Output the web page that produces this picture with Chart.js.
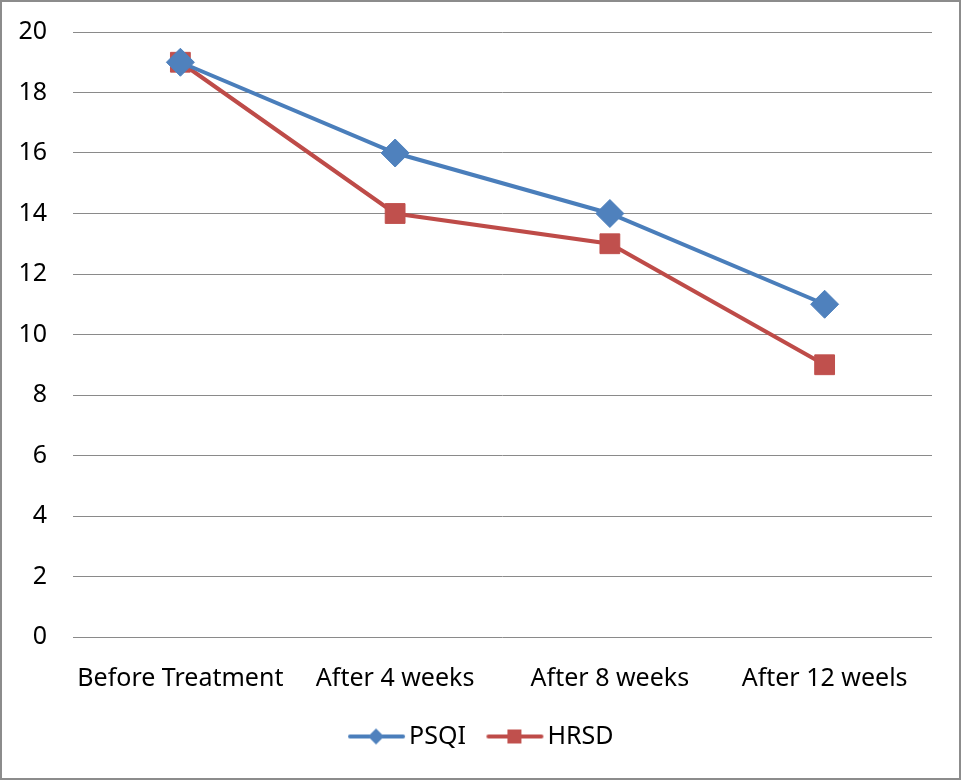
<!DOCTYPE html>
<html>
<head>
<meta charset="utf-8">
<script src="https://cdn.jsdelivr.net/npm/chart.js@4/dist/chart.umd.min.js"></script>
<style>
  html, body { margin: 0; padding: 0; background: #ffffff; }
  #wrap { width: 961px; height: 780px; position: relative; }
</style>
</head>
<body>
<div id="wrap"><canvas id="chart" width="961" height="780"></canvas></div>
<script>
// Time points and scores
const categories = ['Before Treatment', 'After 4 weeks', 'After 8 weeks', 'After 12 weels'];
const psqiValues = [19, 16, 14, 11];
const hrsdValues = [19, 14, 13, 9];
const yTicks = [0, 2, 4, 6, 8, 10, 12, 14, 16, 18, 20];

const FONT = '"Noto Sans", "Open Sans", sans-serif';
const FONT_SIZE = 25;
const BLUE = '#4A7EBB';
const BLUE_MARK = '#4F81BD';
const RED = '#BE4B48';
const RED_MARK = '#C0504D';

// Legend swatch: a short line with the series marker in the middle.
// The canvas is wider than the legend box so the line sits close to the label.
function legendSwatch(color, markColor, shape) {
  const c = document.createElement('canvas');
  c.width = 80; c.height = 24;
  const g = c.getContext('2d');
  g.strokeStyle = color;
  g.lineWidth = 4;
  g.lineCap = 'round';
  g.beginPath();
  g.moveTo(18, 12); g.lineTo(71, 12);
  g.stroke();
  g.fillStyle = markColor;
  const cx = 44;
  if (shape === 'diamond') {
    g.beginPath();
    g.moveTo(cx, 4); g.lineTo(cx + 8, 12); g.lineTo(cx, 20); g.lineTo(cx - 8, 12);
    g.closePath();
    g.fill();
  } else {
    g.fillRect(cx - 7, 5, 14, 14);
  }
  return c;
}

// Outer frame around the whole figure
const framePlugin = {
  id: 'frame',
  afterDraw(chart) {
    const ctx = chart.ctx;
    ctx.save();
    ctx.strokeStyle = '#8c8c8c';
    ctx.lineWidth = 2;
    ctx.strokeRect(1, 1, chart.width - 2, chart.height - 2);
    ctx.restore();
  }
};

new Chart(document.getElementById('chart'), {
  type: 'line',
  data: {
    labels: categories,
    datasets: [
      {
        label: 'PSQI',
        data: psqiValues,
        borderColor: BLUE,
        backgroundColor: BLUE_MARK,
        borderWidth: 4,
        tension: 0,
        pointStyle: 'rectRot',
        pointRadius: 14,
        pointBorderWidth: 1,
        pointBorderColor: BLUE_MARK,
        pointBackgroundColor: BLUE_MARK,
        legendSwatch: legendSwatch(BLUE, BLUE_MARK, 'diamond')
      },
      {
        label: 'HRSD',
        data: hrsdValues,
        borderColor: RED,
        backgroundColor: RED_MARK,
        borderWidth: 4,
        tension: 0,
        pointStyle: 'rect',
        pointRadius: 14,
        pointBorderWidth: 1,
        pointBorderColor: RED_MARK,
        pointBackgroundColor: RED_MARK,
        legendSwatch: legendSwatch(RED, RED_MARK, 'square')
      }
    ]
  },
  options: {
    responsive: false,
    animation: false,
    layout: { autoPadding: false, padding: { left: 0, right: 0, top: 0, bottom: 21 } },
    plugins: {
      tooltip: { enabled: false },
      legend: {
        position: 'bottom',
        labels: {
          usePointStyle: true,
          pointStyleWidth: 49,
          boxHeight: 24,
          padding: 20,
          color: '#000000',
          font: { family: FONT, size: FONT_SIZE },
          generateLabels(chart) {
            return chart.data.datasets.map((ds, i) => ({
              text: ds.label,
              pointStyle: ds.legendSwatch,
              fillStyle: ds.backgroundColor,
              strokeStyle: ds.borderColor,
              lineWidth: 0,
              hidden: !chart.isDatasetVisible(i),
              datasetIndex: i,
              fontColor: '#000000'
            }));
          }
        }
      }
    },
    scales: {
      x: {
        offset: true,
        afterFit(scale) { scale.height = 67; },
        grid: { display: false, drawTicks: false },
        border: { display: false },
        ticks: {
          color: '#000000',
          padding: 27,
          maxRotation: 0,
          font: { family: FONT, size: FONT_SIZE }
        }
      },
      y: {
        min: 0,
        max: 20,
        afterBuildTicks(scale) {
          scale.ticks = yTicks.map(v => ({ value: v }));
        },
        afterFit(scale) {
          scale.width = 73;
          scale.paddingTop = 32;
        },
        grid: { color: '#8a8a8a', lineWidth: 1, drawTicks: false },
        border: { display: false },
        ticks: {
          color: '#000000',
          padding: 26,
          font: { family: FONT, size: FONT_SIZE }
        }
      },
      // empty strip on the right of the plot, keeps the legend centred on the page
      yRight: {
        position: 'right',
        min: 0,
        max: 20,
        afterFit(scale) { scale.width = 29; },
        grid: { display: false, drawTicks: false },
        border: { display: false },
        ticks: { display: false }
      }
    }
  },
  plugins: [framePlugin]
});
</script>
</body>
</html>
